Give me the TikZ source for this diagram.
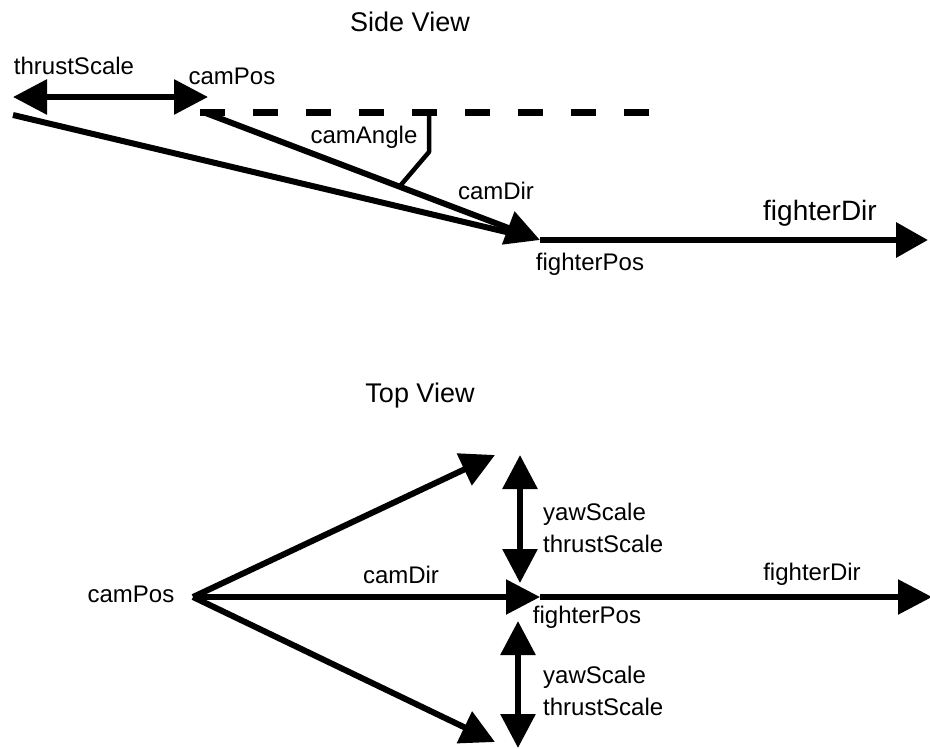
\documentclass[tikz,border=0pt]{standalone}
\usepackage{fontspec}
\setmainfont{Liberation Sans}
\usetikzlibrary{arrows.meta}

\tikzset{
  lbl/.style={inner sep=0pt, font=\fontsize{24}{32}\selectfont},
  ttl/.style={inner sep=0pt, font=\fontsize{27}{32}\selectfont},
  head/.style={-{Triangle[length=34pt,width=34pt]}},
  vec/.style={line width=6pt, head},
  dvec/.style={line width=6pt, {Triangle[length=34pt,width=34pt]}-{Triangle[length=34pt,width=34pt]}},
}

\begin{document}
\begin{tikzpicture}[x=1pt, y=-1pt, line join=round]
\useasboundingbox (0,0) rectangle (930,749);

% side view
\node[ttl] (sideTitle) at (410,22) {Side View};
\coordinate (sThrustL) at (13,97);
\coordinate (sThrustR) at (208,97);
\coordinate (sBack) at (13,115);
\coordinate (sCamPos) at (203,112);
\coordinate (sFighterPos) at (540,240);
\coordinate (sFighterDir) at (928,240);
\coordinate (sHorizL) at (200,113);
\coordinate (sHorizR) at (652,113);
\coordinate (sAngTop) at (429,113);
\coordinate (sAngMid) at (429,152);
\coordinate (sAngEnd) at (400,186);

\draw[dvec] (sThrustL) -- (sThrustR);
\draw[line width=6pt, shorten >=14pt] (sBack) -- (sFighterPos);
\draw[line width=7pt, dash pattern=on 25pt off 28pt] (sHorizL) -- (sHorizR);
\draw[vec] (sCamPos) -- (sFighterPos);
\draw[line width=4.5pt] (sAngTop) -- (sAngMid) -- (sAngEnd);
\draw[line width=6.5pt, -{Triangle[length=32pt,width=34pt]}] (sFighterPos) -- (sFighterDir);

\node[lbl] (sThrustLbl) at (74,66) {thrustScale};
\node[lbl] (sCamPosLbl) at (232,76) {camPos};
\node[lbl] (sAngleLbl) at (364,137) {camAngle};
\node[lbl] (sCamDirLbl) at (496,191) {camDir};
\node[lbl] (sFighterPosLbl) at (590,264) {fighterPos};
\node[lbl, font=\fontsize{28}{32}\selectfont] (sFighterDirLbl) at (820,213) {fighterDir};

% top view
\node[ttl] (topTitle) at (420,396) {Top View};
\coordinate (tCamPos) at (193,597);
\coordinate (tUp) at (495,455);
\coordinate (tDown) at (495,742);
\coordinate (tFighterPos) at (540,597);
\coordinate (tFighterDir) at (932,597);
\coordinate (tYawUpA) at (520,455);
\coordinate (tYawUpB) at (520,583);
\coordinate (tYawDnA) at (518,621);
\coordinate (tYawDnB) at (518,748);

\draw[vec] (tCamPos) -- (tUp);
\draw[vec] (tCamPos) -- (tDown);
\draw[vec, line width=5.5pt] (tCamPos) -- (tFighterPos);
\draw[vec, line width=5.5pt] (tFighterPos) -- (tFighterDir);
\draw[dvec] (tYawUpA) -- (tYawUpB);
\draw[dvec] (tYawDnA) -- (tYawDnB);

\node[lbl] (tCamPosLbl) at (131,594) {camPos};
\node[lbl] (tCamDirLbl) at (401,575) {camDir};
\node[lbl] (tFighterDirLbl) at (812,574) {fighterDir};
\node[lbl] (tFighterPosLbl) at (587,617) {fighterPos};
\node[lbl, align=left, anchor=west] (tScaleUp) at (543,528) {yawScale\\thrustScale};
\node[lbl, align=left, anchor=west] (tScaleDn) at (543,691) {yawScale\\thrustScale};
\end{tikzpicture}
\end{document}
